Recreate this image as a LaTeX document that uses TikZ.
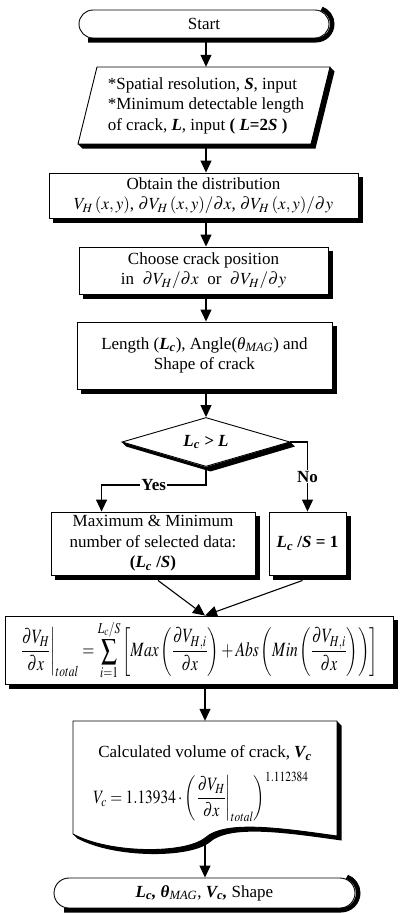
\documentclass[tikz,border=0pt]{standalone}
\usepackage{amsmath}
\usepackage{mathptmx}
\usepackage{fontspec}
\setmainfont{Liberation Serif}
\usetikzlibrary{shapes.geometric,shapes.misc,arrows.meta,calc}
\newcommand\mainsz{\fontsize{17}{20.5}\selectfont}
\newcommand\bfit[1]{\textbf{\textit{#1}}}
\tikzset{
  outline/.style={draw,line width=0.9pt,fill=white},
  base/.style={outline,align=center,inner sep=1pt,font=\mainsz},
  procbox/.style={base,rectangle},
  term/.style={base,rounded rectangle},
  decis/.style={base,diamond,aspect=3.4,inner sep=0pt},
  arr/.style={line width=1.1pt,-{Triangle[width=11pt,length=12pt]}},
  lbl/.style={fill=white,inner sep=1pt,font=\mainsz\bfseries},
  txt/.style={inner sep=0pt,font=\mainsz},
  shadowline/.style={draw=black,line width=4.5pt},
  shadowband/.style={fill=black},
}
\begin{document}
\begin{tikzpicture}[x=1pt,y=-1pt]
\useasboundingbox (0,0) rectangle (401,913);
\fill[white] (0,0) rectangle (401,913);

% terminals and boxes
\node[term,minimum width=252pt,minimum height=28pt] (start) at (204,24) {Start};

\draw[outline] (78,144) -- (97,67) -- (330,67) -- (311,144) -- cycle;
\node[txt,align=left,minimum width=233pt,minimum height=77pt] (inp) at (206,105.5)
  {*Spatial resolution, \bfit{S}, input\\
   *Minimum detectable length\\
   of crack, \bfit{L}, input \textbf{( \textit{L}=2\textit{S} )}};

\node[procbox,minimum width=309pt,minimum height=45pt] (obt) at (203.5,195.5)
  {Obtain the distribution\\
   $V_H\,(x,y)$, $\partial V_H\,(x,y)/\partial x$, $\partial V_H\,(x,y)/\partial y$};

\node[procbox,minimum width=249pt,minimum height=47pt] (cho) at (203.5,270.5)
  {Choose crack position\\
   in \ $\partial V_H/\partial x$ \ or \ $\partial V_H/\partial y$};

\node[procbox,minimum width=255pt,minimum height=67pt] (len) at (204.5,355.5)
  {Length (\bfit{L\textsubscript{c}}), Angle(\textit{θ}\textsubscript{\textit{MAG}}) and\\
   Shape of crack};

\node[decis,minimum width=168pt,minimum height=49pt] (dia) at (206,442)
  {\bfit{L\textsubscript{c} > L}};

\node[procbox,minimum width=204pt,minimum height=63pt] (maxb) at (153,543.5)
  {Maximum \& Minimum\\
   number of selected data:\\
   \textbf{(\textit{L\textsubscript{c}} /\textit{S})}};

\node[procbox,minimum width=77pt,minimum height=63pt] (lcs) at (307.5,543.5)
  {\bfit{L\textsubscript{c}} \textbf{/\textit{S} = 1}};

\node[procbox,inner sep=0pt,minimum width=388pt,minimum height=68pt] (fml) at (199,650)
  {\resizebox*{358pt}{60pt}{$\displaystyle
    \left.\frac{\partial V_H}{\partial x}\right|_{total}
    = \sum_{i=1}^{L_c/S}\left[ Max\left(\frac{\partial V_{H,i}}{\partial x}\right)
    + Abs\left( Min\left(\frac{\partial V_{H,i}}{\partial x}\right)\right)\right]$}};

\draw[outline] (73,721) -- (337,721) -- (337,836)
  .. controls (280,828) and (225,820) .. (205,838)
  .. controls (185,854) and (110,854) .. (73,834) -- cycle;
\node[inner sep=0pt,minimum width=264pt,minimum height=115pt] (doc) at (205,778.5) {};
\node[txt] (doct) at (205,753) {Calculated volume of crack, \bfit{V\textsubscript{c}}};
\node[txt] (docf) at (201,797)
  {\resizebox*{215pt}{50pt}{$\displaystyle V_c = 1.13934\cdot
    \left(\left.\frac{\partial V_H}{\partial x}\right|_{total}\right)^{1.112384}$}};
\coordinate (docout) at (205,838);

\node[term,minimum width=303pt,minimum height=30pt] (fin) at (204.5,893)
  {\bfit{L\textsubscript{c},} \bfit{θ}\textsubscript{\textit{MAG}}, \bfit{V\textsubscript{c},} Shape};

% shadows along the right and bottom edges (drawn outside each outline)
\foreach \n in {obt,cho,len,maxb,lcs,fml}
  \draw[shadowline] ([xshift=2.25pt,yshift=-4.5pt]\n.north east)
    -- ([xshift=2.25pt,yshift=-2.25pt]\n.south east)
    -- ([xshift=4.5pt,yshift=-2.25pt]\n.south west);
\draw[shadowline] (88,40.25) -- (316,40.25) arc[start angle=90,end angle=-70,radius=16.25];
\draw[shadowline] (64,910.25) -- (341,910.25) arc[start angle=90,end angle=-70,radius=17.25];
\fill[shadowband] (dia.east) -- ([xshift=4.5pt,yshift=-4.5pt]dia.east)
  -- ([xshift=4.5pt,yshift=-4.5pt]dia.south) -- ([xshift=4.5pt,yshift=-4.5pt]dia.west)
  -- (dia.west) -- (dia.south) -- cycle;
\fill[shadowband] (330,67) -- (334.5,71.5) -- (315.5,148.5) -- (82.5,148.5)
  -- (78,144) -- (311,144) -- cycle;
\fill[shadowband] (337,721) -- (341.5,725.5) -- (341.5,840.5)
  .. controls (284.5,832.5) and (229.5,824.5) .. (209.5,842.5)
  .. controls (189.5,858.5) and (114.5,858.5) .. (77.5,838.5)
  -- (73,834) .. controls (110,854) and (185,854) .. (205,838)
  .. controls (225,820) and (280,828) .. (337,836) -- cycle;

% connectors
\draw[arr] ([yshift=-4pt]start.south -| dia.north) -- (dia.north |- inp.north);
\draw[arr] ([yshift=-4pt]inp.south -| dia.north) -- (dia.north |- obt.north);
\draw[arr] ([yshift=-4pt]obt.south -| dia.north) -- (dia.north |- cho.north);
\draw[arr] ([yshift=-4pt]cho.south -| dia.north) -- (dia.north |- len.north);
\draw[arr] ([yshift=-4pt]len.south -| dia.north) -- (dia.north);
\draw[arr] ([yshift=-3pt]dia.south) -- (dia.south |- 0,485) -| node[lbl,pos=0.25]{Yes} ([xshift=51pt]maxb.north west);
\draw[arr] (dia.east) -| node[lbl,pos=0.75]{No} (lcs.north);
\draw[arr] ([xshift=5pt,yshift=-5pt]maxb.south) -- ([xshift=6pt]fml.north);
\draw[arr] ([xshift=-5pt,yshift=-5pt]lcs.south) -- ([xshift=6pt]fml.north);
\draw[arr] ([xshift=6pt,yshift=-4pt]fml.south) -- (doc.north -| docout);
\draw[arr] ([yshift=-3pt]docout) -- (docout |- fin.north);
\end{tikzpicture}
\end{document}
